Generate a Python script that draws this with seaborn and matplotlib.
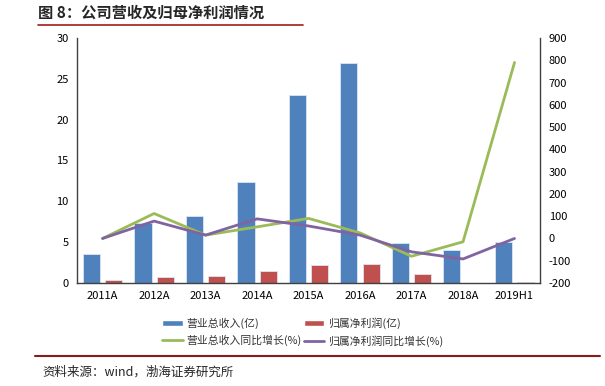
import numpy as np
import pandas as pd
import matplotlib
matplotlib.use("Agg")
import matplotlib.pyplot as plt
import seaborn as sns
from matplotlib.lines import Line2D
from matplotlib.patches import Patch

categories = ["2011A", "2012A", "2013A", "2014A", "2015A", "2016A", "2017A", "2018A", "2019H1"]
revenue = [3.5, 7.3, 8.2, 12.4, 23.0, 26.9, 4.9, 4.0, 5.0]
net_profit = [0.4, 0.7, 0.8, 1.5, 2.2, 2.3, 1.1, 0.05, 0.15]
revenue_yoy = [0, 112, 15, 52, 90, 25, -80, -15, 790]
profit_yoy = [0, 78, 15, 88, 56, 15, -60, -92, 0]

s_rev = "营业总收入(亿)"
s_np = "归属净利润(亿)"
s_rev_g = "营业总收入同比增长(%)"
s_np_g = "归属净利润同比增长(%)"

sns.set_theme(style="white")
plt.rcParams['font.family'] = ['Noto Sans CJK SC', 'DejaVu Sans']
plt.rcParams['axes.unicode_minus'] = False

bars = pd.DataFrame({
    "cat": categories * 2,
    "val": revenue + net_profit,
    "series": [s_rev] * len(categories) + [s_np] * len(categories),
})
lines = pd.DataFrame({
    "x": list(range(len(categories))) * 2,
    "val": revenue_yoy + profit_yoy,
    "series": [s_rev_g] * len(categories) + [s_np_g] * len(categories),
})

blue, red, green, purple = "#4F81BD", "#C0504D", "#9BBB59", "#8064A2"

fig = plt.figure(figsize=(6.05, 3.86), dpi=100)
ax = fig.add_axes([0.127, 0.2668, 0.766, 0.6348])

sns.barplot(data=bars, x="cat", y="val", hue="series", order=categories,
            hue_order=[s_rev, s_np], palette=[blue, red], saturation=1,
            width=0.86, gap=0.23, edgecolor="#DCE6F2", linewidth=0.6, ax=ax, legend=False)
ax.set_ylim(0, 30)
ax.set_yticks(np.arange(0, 31, 5))
ax.set_xlim(-0.5, len(categories) - 0.5)
ax.set_xlabel("")
ax.set_ylabel("")

ax2 = ax.twinx()
sns.lineplot(data=lines, x="x", y="val", hue="series", hue_order=[s_rev_g, s_np_g],
             palette=[green, purple], linewidth=2.0, ax=ax2, legend=False)
ax2.set_ylim(-200, 900)
ax2.set_yticks(np.arange(-200, 901, 100))
ax2.set_xlim(-0.5, len(categories) - 0.5)
ax2.set_xlabel("")
ax2.set_ylabel("")

for a in (ax, ax2):
    a.spines["top"].set_visible(False)
    for s in ("left", "right", "bottom"):
        a.spines[s].set_color("#404040")
        a.spines[s].set_linewidth(1.0)
    a.tick_params(axis="both", length=0, labelsize=8, colors="#000000", pad=6)
ax.spines["right"].set_visible(False)
ax2.spines["left"].set_visible(False)
ax2.spines["bottom"].set_visible(False)

handles = [Patch(facecolor=blue), Line2D([], [], color=green, lw=2),
           Patch(facecolor=red), Line2D([], [], color=purple, lw=2)]
labels = [s_rev, s_rev_g, s_np, s_np_g]
fig.legend(handles, labels, ncol=2, loc="center", bbox_to_anchor=(0.50, 0.14),
           frameon=False, fontsize=7.8, handlelength=1.9, handleheight=0.6,
           columnspacing=0.25, labelspacing=0.55, handletextpad=0.3, labelcolor="#333333")

fig.text(0.063, 0.968, "图 8：公司营收及归母净利润情况", fontsize=11, fontweight="bold",
         ha="left", va="center")
fig.add_artist(Line2D([0.063, 0.5], [0.935, 0.935], color="#A01E1E", lw=1.2))
fig.add_artist(Line2D([0.058, 0.992], [0.078, 0.078], color="#8B1A1A", lw=1.5))
fig.text(0.07, 0.035, "资料来源：wind，渤海证券研究所", fontsize=9, style="italic",
         ha="left", va="center")

fig.savefig("out.png", dpi=100)
